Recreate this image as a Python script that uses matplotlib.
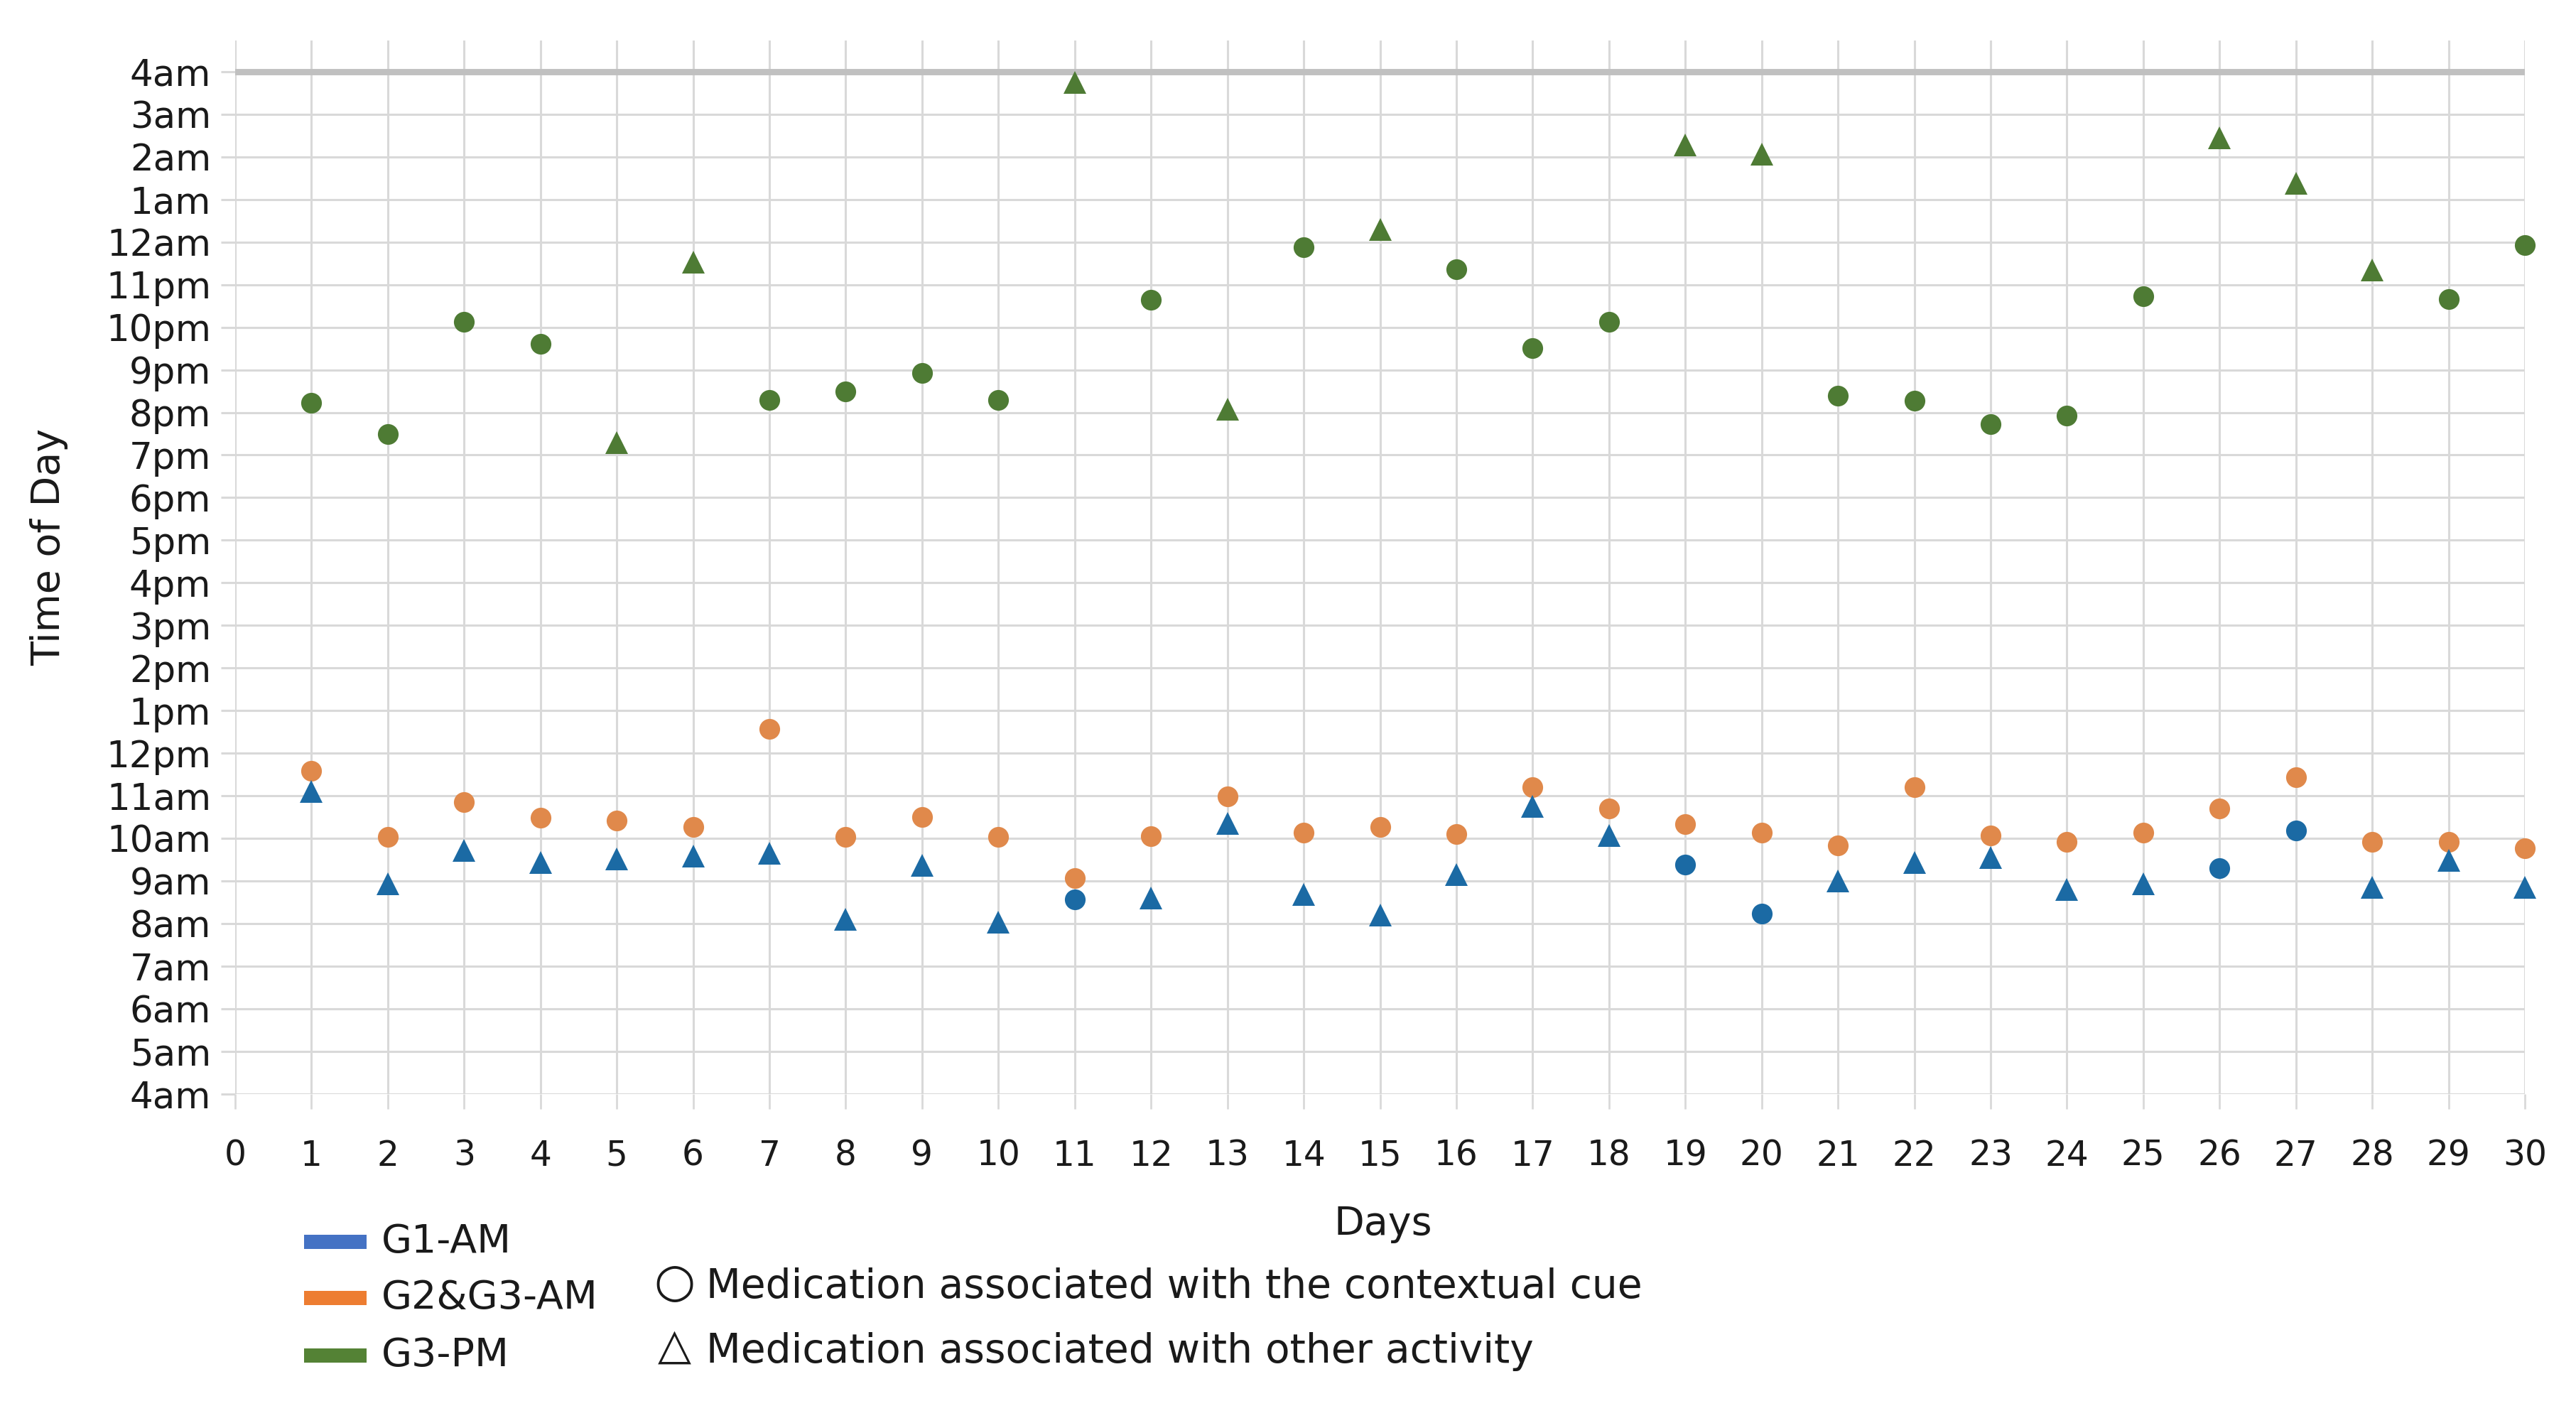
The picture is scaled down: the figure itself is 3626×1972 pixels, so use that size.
import matplotlib
matplotlib.use('Agg')
import matplotlib.pyplot as plt
from matplotlib.patches import Rectangle

# ---------------- data ----------------
days = list(range(1, 31))
# times in hours of day (values > 24 are after midnight)
g1_am = [11.11, 8.94, 9.72, 9.44, 9.52, 9.59, 9.65, 8.10, 9.37, 8.03,
         8.57, 8.61, 10.36, 8.68, 8.21, 9.15, 10.75, 10.07, 9.38, 8.24,
         9.01, 9.44, 9.56, 8.81, 8.94, 9.31, 10.18, 8.86, 9.48, 8.86]
g23_am = [11.59, 10.04, 10.86, 10.49, 10.42, 10.27, 12.57, 10.04, 10.50, 10.04,
          9.07, 10.06, 10.99, 10.13, 10.27, 10.11, 11.20, 10.71, 10.34, 10.13,
          9.84, 11.20, 10.07, 9.92, 10.13, 10.71, 11.44, 9.92, 9.92, 9.77]
g3_pm = [20.22, 19.49, 22.13, 21.61, 19.29, 23.53, 20.29, 20.49, 20.92, 20.29,
         27.75, 22.64, 20.08, 23.87, 24.29, 23.36, 21.51, 22.13, 26.28, 26.06,
         20.40, 20.28, 19.72, 19.93, 22.72, 26.44, 25.37, 23.35, 22.66, 23.93]
# association: 'cue' = contextual cue (circle), 'other' = other activity (triangle)
g1_assoc = ['other'] * 30
for d in [11, 19, 20, 26, 27]:
    g1_assoc[d - 1] = 'cue'
g23_assoc = ['cue'] * 30
g3_assoc = ['cue'] * 30
for d in [5, 6, 11, 13, 15, 19, 20, 26, 27, 28]:
    g3_assoc[d - 1] = 'other'

hour_ticks = list(range(4, 29))
def hour_label(h):
    h = h % 24
    if h == 0:
        return '12am'
    if h == 12:
        return '12pm'
    return f'{h % 12}{"am" if h < 12 else "pm"}'
hour_labels = [hour_label(h) for h in hour_ticks]
day_ticks = list(range(0, 31))

series_names = ['G1-AM', 'G2&G3-AM', 'G3-PM']
legend_colors = ['#4472C4', '#ED7D31', '#548235']
marker_colors = {'G1-AM': '#1b6aa4', 'G2&G3-AM': '#e0894b', 'G3-PM': '#4e7b34'}

# ---------------- figure ----------------
W, H = 3626, 1972
DPI = 200
fig = plt.figure(figsize=(W / DPI, H / DPI), dpi=DPI)
fig.patch.set_facecolor('white')

def fx(px):
    return px / W

def fy(py):
    return 1 - py / H

ax = fig.add_axes([fx(331), fy(1540), fx(3554) - fx(331), fy(57) - fy(1540)])
ax.set_xlim(0, 30)
ax.set_ylim(4, 28.73)
for s in ax.spines.values():
    s.set_visible(False)

ax.set_yticks(hour_ticks)
ax.set_yticklabels(hour_labels)
ax.set_xticks(day_ticks)
ax.set_xticklabels([str(d) for d in day_ticks])
ax.grid(True, color='#d9d9d9', linewidth=1.1, zorder=0)
ax.set_axisbelow(True)
ax.axhline(28, color='#c0c0c0', linewidth=3.2, zorder=1)

ax.tick_params(axis='x', length=7.6, width=1.0, color='#d9d9d9', pad=15,
               labelsize=17.5, labelcolor='#1a1a1a')
ax.tick_params(axis='y', length=7.2, width=1.1, color='#d9d9d9', pad=5,
               labelsize=18.5, labelcolor='#1a1a1a')

def plot_series(values, assoc, name, z):
    col = marker_colors[name]
    xs_c = [d for d, a in zip(days, assoc) if a == 'cue']
    ys_c = [v for v, a in zip(values, assoc) if a == 'cue']
    xs_t = [d for d, a in zip(days, assoc) if a == 'other']
    ys_t = [v for v, a in zip(values, assoc) if a == 'other']
    ax.plot(xs_c, ys_c, linestyle='none', marker='o', markersize=10.5,
            color=col, markeredgewidth=0, zorder=z, clip_on=False)
    ax.plot(xs_t, ys_t, linestyle='none', marker='^', markersize=11.5,
            color=col, markeredgewidth=0, zorder=z, clip_on=False)

plot_series(g23_am, g23_assoc, 'G2&G3-AM', 3)
plot_series(g1_am, g1_assoc, 'G1-AM', 4)
plot_series(g3_pm, g3_assoc, 'G3-PM', 3)

# axis titles
fig.text(fx(69), fy(770), 'Time of Day', rotation=90, ha='center', va='center',
         fontsize=20, color='#1a1a1a')
fig.text(fx(1947), fy(1723), 'Days', ha='center', va='center',
         fontsize=20, color='#1a1a1a')

# legend: series colours
leg_y = [1748, 1827, 1908]
for name, col, yy in zip(series_names, legend_colors, leg_y):
    fig.add_artist(Rectangle((fx(428), fy(yy + 10)), fx(516) - fx(428), fy(yy - 10) - fy(yy + 10),
                             transform=fig.transFigure, facecolor=col, edgecolor='none'))
    fig.text(fx(537), fy(yy), name, ha='left', va='center', fontsize=20, color='#1a1a1a')

# legend: marker meaning
fig.text(fx(949), fy(1806), '\u25cb', ha='center', va='center', fontsize=24, color='#1a1a1a')
fig.text(fx(994), fy(1811), 'Medication associated with the contextual cue', ha='left',
         va='center', fontsize=20.4, color='#1a1a1a')
fig.text(fx(949), fy(1896), '\u25b3', ha='center', va='center', fontsize=22, color='#1a1a1a')
fig.text(fx(994), fy(1903), 'Medication associated with other activity', ha='left',
         va='center', fontsize=20.4, color='#1a1a1a')

fig.savefig('out.png', dpi=DPI, facecolor='white')
